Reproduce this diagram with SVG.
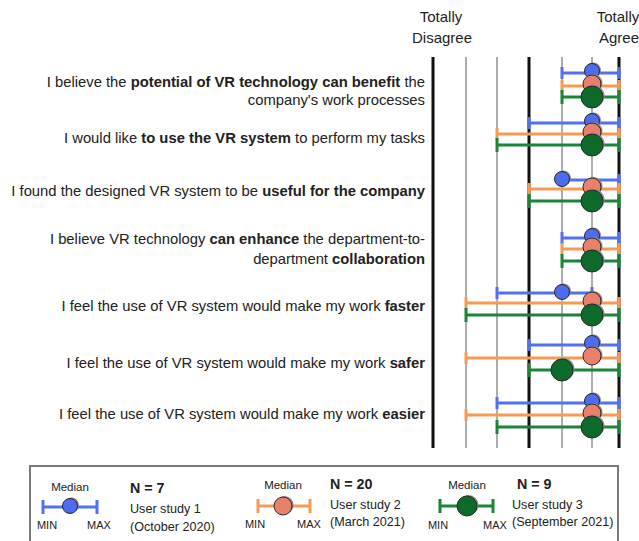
<svg xmlns="http://www.w3.org/2000/svg" width="639" height="541" viewBox="0 0 639 541">
  <style>
    text { font-family: "Liberation Sans", Arial, sans-serif; fill: #222; }
    .stmt { font-size: 14.8px; text-anchor: end; }
    .head { font-size: 15px; text-anchor: middle; }
    .b { font-weight: bold; }
    .grid-major { stroke: #111; stroke-width: 3; }
    .grid-minor { stroke: #999; stroke-width: 1.6; }
    .bar { stroke-width: 3; fill: none; }
    .blue { stroke: #5171f2; }
    .orange { stroke: #f89a55; }
    .green { stroke: #1b8638; }
    .shadow { fill: #8c8c8c; }
    .dot { stroke: #2a2a2a; stroke-width: 1; }
    .dot-blue { fill: #4d6cf0; }
    .dot-orange { fill: #ea806a; }
    .dot-green { fill: #0c6b2b; }
    .leg-small { font-size: 11px; text-anchor: middle; }
    .leg-med { font-size: 11.5px; text-anchor: middle; }
    .leg-n { font-size: 14.3px; font-weight: bold; }
    .leg-txt { font-size: 12.6px; }
  </style>

  <!-- column headers -->
  <g id="scale-headers">
    <text class="head" x="441" y="22">Totally</text>
    <text class="head" x="442" y="43">Disagree</text>
    <text class="head" x="618" y="22">Totally</text>
    <text class="head" x="619" y="43">Agree</text>
  </g>

  <!-- Likert scale grid (1..7) -->
  <g id="grid">
    <line class="grid-major" x1="433" y1="57" x2="433" y2="448"/>
    <line class="grid-minor" x1="466" y1="57" x2="466" y2="448"/>
    <line class="grid-minor" x1="497" y1="57" x2="497" y2="448"/>
    <line class="grid-major" x1="529" y1="57" x2="529" y2="448"/>
    <line class="grid-minor" x1="562" y1="57" x2="562" y2="448"/>
    <line class="grid-minor" x1="592" y1="57" x2="592" y2="448"/>
    <line class="grid-major" x1="619" y1="57" x2="619" y2="448"/>
  </g>

  <!-- statement labels -->
  <g id="labels">
    <text class="stmt" x="425" y="87">I believe the <tspan class="b">potential of VR technology can benefit</tspan> the</text>
    <text class="stmt" x="425" y="105">company's work processes</text>
    <text class="stmt" x="425" y="143">I would like <tspan class="b">to use the VR system</tspan> to perform my tasks</text>
    <text class="stmt" x="425" y="196">I found the designed VR system to be <tspan class="b">useful for the company</tspan></text>
    <text class="stmt" x="425" y="244">I believe VR technology <tspan class="b">can enhance</tspan> the department-to-</text>
    <text class="stmt" x="425" y="264">department <tspan class="b">collaboration</tspan></text>
    <text class="stmt" x="425" y="311">I feel the use of VR system would make my work <tspan class="b">faster</tspan></text>
    <text class="stmt" x="425" y="368">I feel the use of VR system would make my work <tspan class="b">safer</tspan></text>
    <text class="stmt" x="425" y="419">I feel the use of VR system would make my work <tspan class="b">easier</tspan></text>
  </g>

  <!-- row 1 -->
  <g id="row1">
    <path class="bar blue" d="M562 73H619M562 67V79M619 67V79"/>
    <circle class="shadow" cx="593.5" cy="70" r="7.5"/><circle class="dot dot-blue" cx="592" cy="71" r="7.5"/>
    <path class="bar orange" d="M562 86H619M562 80V92M619 80V92"/>
    <circle class="shadow" cx="593.5" cy="83" r="9"/><circle class="dot dot-orange" cx="592" cy="84" r="9"/>
    <path class="bar green" d="M562 97H619M562 90V104M619 90V104"/>
    <circle class="shadow" cx="593.5" cy="96" r="11"/><circle class="dot dot-green" cx="592" cy="97" r="11"/>
  </g>

  <!-- row 2 -->
  <g id="row2">
    <path class="bar blue" d="M529 123H619M529 117V129M619 117V129"/>
    <circle class="shadow" cx="593.5" cy="120" r="7.5"/><circle class="dot dot-blue" cx="592" cy="121" r="7.5"/>
    <path class="bar orange" d="M497 134H619M497 128V140M619 128V140"/>
    <circle class="shadow" cx="593.5" cy="131" r="9"/><circle class="dot dot-orange" cx="592" cy="132" r="9"/>
    <path class="bar green" d="M497 145H619M497 138V152M619 138V152"/>
    <circle class="shadow" cx="593.5" cy="144" r="11"/><circle class="dot dot-green" cx="592" cy="145" r="11"/>
  </g>

  <!-- row 3 -->
  <g id="row3">
    <path class="bar blue" d="M562 180H619M619 174V186"/>
    <circle class="shadow" cx="563.5" cy="178" r="7.5"/><circle class="dot dot-blue" cx="562" cy="179" r="7.5"/>
    <path class="bar orange" d="M529 189H619M529 183V195M619 183V195"/>
    <circle class="shadow" cx="593.5" cy="186" r="9"/><circle class="dot dot-orange" cx="592" cy="187" r="9"/>
    <path class="bar green" d="M529 201H619M529 194V208M619 194V208"/>
    <circle class="shadow" cx="593.5" cy="200" r="11"/><circle class="dot dot-green" cx="592" cy="201" r="11"/>
  </g>

  <!-- row 4 -->
  <g id="row4">
    <path class="bar blue" d="M562 238H619M562 232V244M619 232V244"/>
    <circle class="shadow" cx="593.5" cy="235" r="7.5"/><circle class="dot dot-blue" cx="592" cy="236" r="7.5"/>
    <path class="bar orange" d="M562 249H619M562 243V255M619 243V255"/>
    <circle class="shadow" cx="593.5" cy="246" r="9"/><circle class="dot dot-orange" cx="592" cy="247" r="9"/>
    <path class="bar green" d="M562 261H619M562 254V268M619 254V268"/>
    <circle class="shadow" cx="593.5" cy="260" r="11"/><circle class="dot dot-green" cx="592" cy="261" r="11"/>
  </g>

  <!-- row 5 -->
  <g id="row5">
    <path class="bar blue" d="M497 293H592M497 287V299M592 287V299"/>
    <circle class="shadow" cx="563.5" cy="291" r="7.5"/><circle class="dot dot-blue" cx="562" cy="292" r="7.5"/>
    <path class="bar orange" d="M466 303H619M466 297V309M619 297V309"/>
    <circle class="shadow" cx="593.5" cy="300" r="9"/><circle class="dot dot-orange" cx="592" cy="301" r="9"/>
    <path class="bar green" d="M466 315H619M466 308V322M619 308V322"/>
    <circle class="shadow" cx="593.5" cy="314" r="11"/><circle class="dot dot-green" cx="592" cy="315" r="11"/>
  </g>

  <!-- row 6 -->
  <g id="row6">
    <path class="bar blue" d="M529 345H619M529 339V351M619 339V351"/>
    <circle class="shadow" cx="593.5" cy="342" r="7.5"/><circle class="dot dot-blue" cx="592" cy="343" r="7.5"/>
    <path class="bar orange" d="M466 358H619M466 352V364M619 352V364"/>
    <circle class="shadow" cx="593.5" cy="355" r="9"/><circle class="dot dot-orange" cx="592" cy="356" r="9"/>
    <path class="bar green" d="M529 370H619M529 363V377M619 363V377"/>
    <circle class="shadow" cx="563.5" cy="369" r="11"/><circle class="dot dot-green" cx="562" cy="370" r="11"/>
  </g>

  <!-- row 7 -->
  <g id="row7">
    <path class="bar blue" d="M497 403H619M497 397V409M619 397V409"/>
    <circle class="shadow" cx="593.5" cy="400" r="7.5"/><circle class="dot dot-blue" cx="592" cy="401" r="7.5"/>
    <path class="bar orange" d="M466 415H619M466 409V421M619 409V421"/>
    <circle class="shadow" cx="593.5" cy="412" r="9"/><circle class="dot dot-orange" cx="592" cy="413" r="9"/>
    <path class="bar green" d="M497 427H619M497 420V434M619 420V434"/>
    <circle class="shadow" cx="593.5" cy="426" r="11"/><circle class="dot dot-green" cx="592" cy="427" r="11"/>
  </g>

  <!-- legend -->
  <g id="legend">
    <rect x="30" y="466" width="588" height="90" fill="#fff" stroke="#7a7a7a" stroke-width="2"/>

    <g id="legend-study1">
      <text class="leg-med" x="70" y="491">Median</text>
      <path class="bar blue" d="M43 507H97M43 500V514M97 500V514"/>
      <circle class="shadow" cx="71.5" cy="505" r="7.5"/><circle class="dot dot-blue" cx="70" cy="506" r="7.5"/>
      <text class="leg-small" x="47" y="529">MIN</text>
      <text class="leg-small" x="99" y="529">MAX</text>
      <text class="leg-n" x="130" y="493">N = 7</text>
      <text class="leg-txt" x="130" y="513">User study 1</text>
      <text class="leg-txt" x="130" y="531">(October 2020)</text>
    </g>

    <g id="legend-study2">
      <text class="leg-med" x="283" y="489">Median</text>
      <path class="bar orange" d="M258 506H310M258 499V513M310 499V513"/>
      <circle class="shadow" cx="284.5" cy="505" r="9"/><circle class="dot dot-orange" cx="283" cy="506" r="9"/>
      <text class="leg-small" x="255" y="528">MIN</text>
      <text class="leg-small" x="309" y="528">MAX</text>
      <text class="leg-n" x="330" y="489">N = 20</text>
      <text class="leg-txt" x="330" y="509">User study 2</text>
      <text class="leg-txt" x="330" y="526">(March 2021)</text>
    </g>

    <g id="legend-study3">
      <text class="leg-med" x="467" y="489">Median</text>
      <path class="bar green" d="M440 506H493M440 499V513M493 499V513"/>
      <circle class="shadow" cx="468.5" cy="505" r="10"/><circle class="dot dot-green" cx="467" cy="506" r="10"/>
      <text class="leg-small" x="438" y="529">MIN</text>
      <text class="leg-small" x="495" y="529">MAX</text>
      <text class="leg-n" x="517" y="489">N = 9</text>
      <text class="leg-txt" x="512" y="509">User study 3</text>
      <text class="leg-txt" x="512" y="526">(September 2021)</text>
    </g>
  </g>
</svg>
